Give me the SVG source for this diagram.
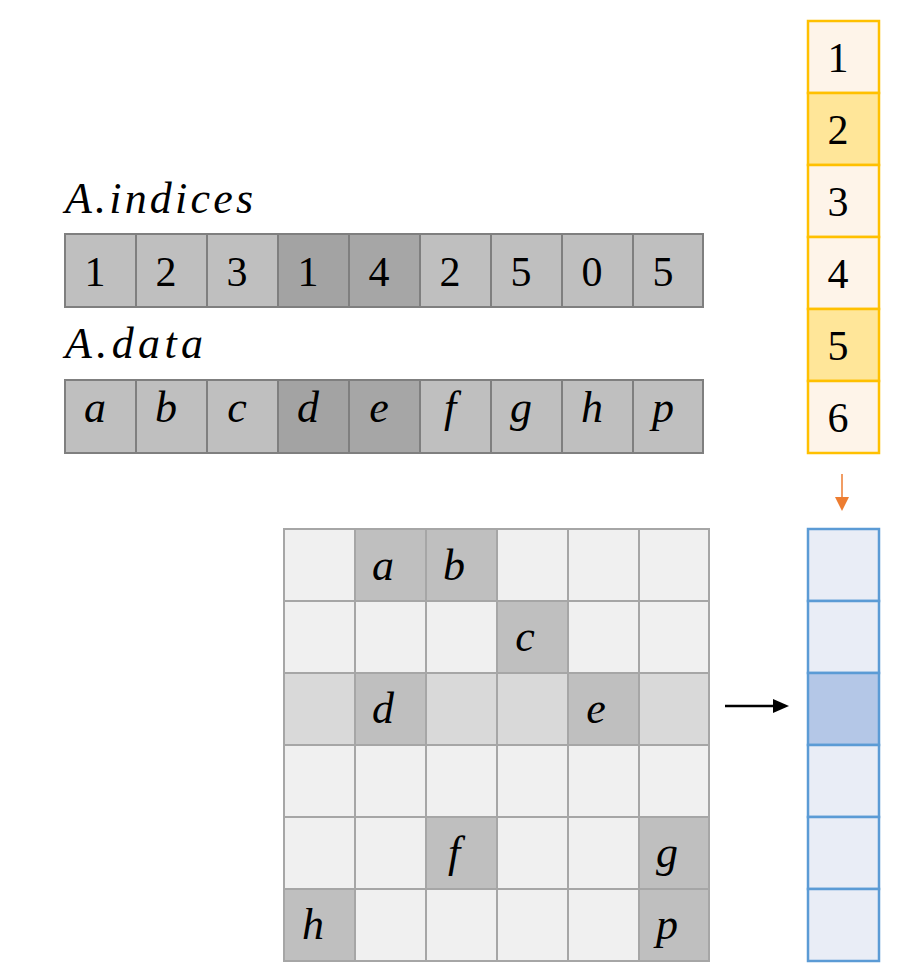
<svg xmlns="http://www.w3.org/2000/svg" width="915" height="975" viewBox="0 0 915 975">
<style>
.t{font-family:"Liberation Serif","DejaVu Serif",serif;font-size:42px;fill:#000;text-anchor:middle}
.i{font-style:italic;font-size:44px}
.lbl{font-family:"Liberation Serif","DejaVu Serif",serif;font-size:44px;font-style:italic;fill:#000}
.arr rect{stroke:#7F7F7F;stroke-width:2}
.y rect{stroke:#FFC000;stroke-width:2.5}
.b rect{stroke:#5B9BD5;stroke-width:2.5}
.m rect{stroke:#A6A6A6;stroke-width:2}
</style>
<rect width="915" height="975" fill="#fff"/>
<g id="label-indices"><text class="lbl" x="65" y="213" textLength="188" lengthAdjust="spacing">A.indices</text></g>
<g id="indices" class="arr">
<rect x="65" y="234" width="71" height="73" fill="#BFBFBF"/>
<rect x="136" y="234" width="71" height="73" fill="#BFBFBF"/>
<rect x="207" y="234" width="71" height="73" fill="#BFBFBF"/>
<rect x="278" y="234" width="71" height="73" fill="#A3A3A3"/>
<rect x="349" y="234" width="71" height="73" fill="#A6A6A6"/>
<rect x="420" y="234" width="71" height="73" fill="#BFBFBF"/>
<rect x="491" y="234" width="71" height="73" fill="#BFBFBF"/>
<rect x="562" y="234" width="71" height="73" fill="#BFBFBF"/>
<rect x="633" y="234" width="70" height="73" fill="#BFBFBF"/>
<text class="t" x="95" y="286">1</text>
<text class="t" x="166" y="286">2</text>
<text class="t" x="237" y="286">3</text>
<text class="t" x="308" y="286">1</text>
<text class="t" x="379" y="286">4</text>
<text class="t" x="450" y="286">2</text>
<text class="t" x="521" y="286">5</text>
<text class="t" x="592" y="286">0</text>
<text class="t" x="663" y="286">5</text>
</g>
<g id="label-data"><text class="lbl" x="65" y="358" textLength="138" lengthAdjust="spacing">A.data</text></g>
<g id="data" class="arr">
<rect x="65" y="380" width="71" height="73" fill="#BFBFBF"/>
<rect x="136" y="380" width="71" height="73" fill="#BFBFBF"/>
<rect x="207" y="380" width="71" height="73" fill="#BFBFBF"/>
<rect x="278" y="380" width="71" height="73" fill="#A3A3A3"/>
<rect x="349" y="380" width="71" height="73" fill="#A6A6A6"/>
<rect x="420" y="380" width="71" height="73" fill="#BFBFBF"/>
<rect x="491" y="380" width="71" height="73" fill="#BFBFBF"/>
<rect x="562" y="380" width="71" height="73" fill="#BFBFBF"/>
<rect x="633" y="380" width="70" height="73" fill="#BFBFBF"/>
<text class="t i" x="95" y="422">a</text>
<text class="t i" x="166" y="422">b</text>
<text class="t i" x="237" y="422">c</text>
<text class="t i" x="308" y="422">d</text>
<text class="t i" x="379" y="422">e</text>
<text class="t i" x="450" y="422">f</text>
<text class="t i" x="521" y="422">g</text>
<text class="t i" x="592" y="422">h</text>
<text class="t i" x="663" y="422">p</text>
</g>
<g id="vector-x" class="y">
<rect x="808" y="21" width="71" height="72" fill="#FEF4E9"/>
<rect x="808" y="93" width="71" height="72" fill="#FFE699"/>
<rect x="808" y="165" width="71" height="72" fill="#FEF4E9"/>
<rect x="808" y="237" width="71" height="72" fill="#FEF4E9"/>
<rect x="808" y="309" width="71" height="72" fill="#FFE699"/>
<rect x="808" y="381" width="71" height="72" fill="#FEF4E9"/>
<text class="t" x="838" y="72">1</text>
<text class="t" x="838" y="144">2</text>
<text class="t" x="838" y="216">3</text>
<text class="t" x="838" y="288">4</text>
<text class="t" x="838" y="360">5</text>
<text class="t" x="838" y="432">6</text>
</g>
<g id="vector-y" class="b">
<rect x="808" y="529" width="71" height="72" fill="#E9EDF6"/>
<rect x="808" y="601" width="71" height="72" fill="#E9EDF6"/>
<rect x="808" y="673" width="71" height="72" fill="#B4C7E7"/>
<rect x="808" y="745" width="71" height="72" fill="#E9EDF6"/>
<rect x="808" y="817" width="71" height="72" fill="#E9EDF6"/>
<rect x="808" y="889" width="71" height="72" fill="#E9EDF6"/>
</g>
<g id="matrix" class="m">
<rect x="284" y="529" width="71" height="72" fill="#F0F0F0"/>
<rect x="355" y="529" width="71" height="72" fill="#BFBFBF"/>
<rect x="426" y="529" width="71" height="72" fill="#BFBFBF"/>
<rect x="497" y="529" width="71" height="72" fill="#F0F0F0"/>
<rect x="568" y="529" width="71" height="72" fill="#F0F0F0"/>
<rect x="639" y="529" width="70" height="72" fill="#F0F0F0"/>
<rect x="284" y="601" width="71" height="72" fill="#F0F0F0"/>
<rect x="355" y="601" width="71" height="72" fill="#F0F0F0"/>
<rect x="426" y="601" width="71" height="72" fill="#F0F0F0"/>
<rect x="497" y="601" width="71" height="72" fill="#BFBFBF"/>
<rect x="568" y="601" width="71" height="72" fill="#F0F0F0"/>
<rect x="639" y="601" width="70" height="72" fill="#F0F0F0"/>
<rect x="284" y="673" width="71" height="72" fill="#D9D9D9"/>
<rect x="355" y="673" width="71" height="72" fill="#BFBFBF"/>
<rect x="426" y="673" width="71" height="72" fill="#D9D9D9"/>
<rect x="497" y="673" width="71" height="72" fill="#D9D9D9"/>
<rect x="568" y="673" width="71" height="72" fill="#BFBFBF"/>
<rect x="639" y="673" width="70" height="72" fill="#D9D9D9"/>
<rect x="284" y="745" width="71" height="72" fill="#F0F0F0"/>
<rect x="355" y="745" width="71" height="72" fill="#F0F0F0"/>
<rect x="426" y="745" width="71" height="72" fill="#F0F0F0"/>
<rect x="497" y="745" width="71" height="72" fill="#F0F0F0"/>
<rect x="568" y="745" width="71" height="72" fill="#F0F0F0"/>
<rect x="639" y="745" width="70" height="72" fill="#F0F0F0"/>
<rect x="284" y="817" width="71" height="72" fill="#F0F0F0"/>
<rect x="355" y="817" width="71" height="72" fill="#F0F0F0"/>
<rect x="426" y="817" width="71" height="72" fill="#BFBFBF"/>
<rect x="497" y="817" width="71" height="72" fill="#F0F0F0"/>
<rect x="568" y="817" width="71" height="72" fill="#F0F0F0"/>
<rect x="639" y="817" width="70" height="72" fill="#BFBFBF"/>
<rect x="284" y="889" width="71" height="72" fill="#BFBFBF"/>
<rect x="355" y="889" width="71" height="72" fill="#F0F0F0"/>
<rect x="426" y="889" width="71" height="72" fill="#F0F0F0"/>
<rect x="497" y="889" width="71" height="72" fill="#F0F0F0"/>
<rect x="568" y="889" width="71" height="72" fill="#F0F0F0"/>
<rect x="639" y="889" width="70" height="72" fill="#BFBFBF"/>
<text class="t i" x="383" y="580">a</text>
<text class="t i" x="454" y="580">b</text>
<text class="t i" x="525" y="651">c</text>
<text class="t i" x="383" y="723">d</text>
<text class="t i" x="596" y="723">e</text>
<text class="t i" x="454" y="867">f</text>
<text class="t i" x="667" y="867">g</text>
<text class="t i" x="313" y="939">h</text>
<text class="t i" x="667" y="939">p</text>
</g>
<g id="connectors">
<line x1="842" y1="474" x2="842" y2="500" stroke="#ED7D31" stroke-width="1.5"/>
<path d="M835,497 L849,497 L842,511 z" fill="#ED7D31"/>
<line x1="725" y1="706" x2="775" y2="706" stroke="#000" stroke-width="2.5"/>
<path d="M773,699 L789,706 L773,713 z" fill="#000"/>
</g>
</svg>
